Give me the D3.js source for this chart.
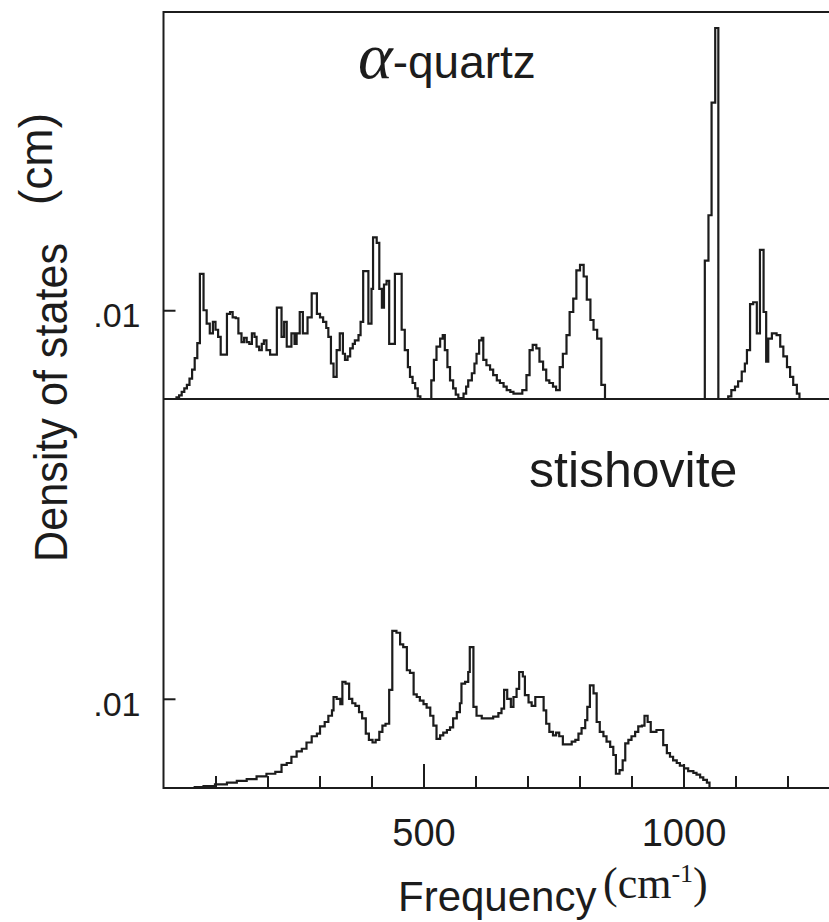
<!DOCTYPE html>
<html>
<head>
<meta charset="utf-8">
<script src="https://cdn.jsdelivr.net/npm/d3@7"></script>
<style>
	body { margin: 0; background: #fff; }
	svg { display: block; }
</style>
</head>
<body>
<script>
// histogram steps: frequency (cm^-1) where a step starts, density of states (x 1e-3 cm)
const quartzFreq = [0, 25, 30, 35, 40, 45, 50, 55, 60, 65, 70, 77, 83, 89, 95, 100, 105, 110, 122, 128, 133, 139, 144, 150, 155, 160, 165, 170, 175, 179, 184, 189, 193, 198, 205, 218, 227, 232, 237, 246, 252, 256, 262, 268, 277, 285, 295, 301, 307, 313, 317, 322, 327, 333, 339, 345, 349, 354, 359, 364, 368, 375, 379, 384, 394, 400, 403, 410, 415, 420, 424, 429, 434, 445, 458, 464, 470, 474, 479, 484, 489, 494, 515, 520, 525, 532, 537, 541, 546, 551, 557, 562, 567, 577, 582, 586, 593, 598, 602, 607, 612, 615, 621, 628, 634, 641, 647, 654, 660, 667, 673, 690, 698, 704, 710, 717, 723, 730, 736, 742, 749, 755, 762, 768, 775, 781, 788, 794, 801, 808, 814, 821, 827, 834, 842, 849, 1041, 1048, 1054, 1061, 1067, 1086, 1092, 1099, 1105, 1112, 1118, 1122, 1128, 1134, 1141, 1147, 1154, 1159, 1163, 1170, 1179, 1186, 1192, 1199, 1205, 1211, 1218, 1223, 1300];
const quartzDos = [0, 0.2, 0.4, 0.8, 1.2, 1.6, 2.3, 3.3, 4.6, 6.3, 14.1, 10.0, 8.5, 7.4, 8.7, 7.8, 7.0, 5.0, 9.6, 9.8, 9.2, 9.1, 7.4, 6.4, 6.9, 6.4, 6.2, 7.4, 7.0, 5.9, 5.5, 6.2, 6.6, 5.5, 5.0, 10.3, 7.0, 8.7, 5.9, 7.4, 6.2, 7.4, 9.8, 7.4, 9.2, 11.9, 9.6, 9.2, 8.7, 8.0, 7.0, 4.0, 2.5, 5.5, 7.4, 5.1, 4.4, 4.8, 5.7, 6.2, 6.6, 7.2, 8.7, 14.4, 8.5, 12.4, 18.2, 17.6, 12.4, 10.3, 12.9, 13.3, 6.2, 14.1, 7.8, 5.5, 3.6, 2.5, 1.8, 1.2, 0.3, 0, 2.1, 4.4, 5.9, 6.8, 7.2, 5.5, 3.6, 2.1, 1.2, 0.5, 0.1, 0.6, 1.4, 2.1, 2.9, 4.0, 5.1, 6.6, 6.9, 4.4, 3.8, 3.3, 2.7, 2.1, 1.8, 1.4, 1.0, 0.8, 0.6, 1.0, 2.7, 5.5, 6.1, 5.7, 4.2, 3.3, 2.1, 1.8, 1.4, 1.0, 3.6, 5.1, 7.2, 9.8, 11.3, 14.5, 15.1, 13.8, 11.2, 8.9, 7.8, 6.8, 1.6, 0, 15.6, 20.7, 33.4, 41.8, 0, 0.3, 1.0, 1.4, 2.0, 3.1, 4.0, 5.5, 10.7, 10.9, 7.4, 16.8, 9.8, 4.2, 6.8, 7.4, 7.2, 5.9, 4.8, 3.6, 2.5, 1.6, 0.6, 0, 0];

const stishFreq = [0, 60, 77, 99, 122, 141, 160, 179, 198, 215, 227, 237, 246, 256, 266, 275, 285, 295, 301, 310, 317, 324, 327, 333, 340, 344, 350, 357, 363, 369, 376, 382, 389, 395, 402, 408, 415, 421, 427, 434, 440, 448, 455, 461, 468, 474, 481, 487, 493, 500, 506, 513, 519, 525, 532, 538, 545, 551, 557, 564, 570, 573, 580, 586, 589, 596, 602, 612, 634, 644, 650, 655, 661, 668, 673, 679, 684, 691, 695, 702, 708, 715, 731, 736, 742, 749, 755, 761, 768, 785, 792, 798, 804, 811, 815, 820, 827, 833, 839, 846, 852, 859, 865, 870, 877, 883, 888, 894, 900, 907, 913, 920, 925, 931, 937, 948, 961, 968, 974, 980, 987, 993, 1001, 1009, 1019, 1025, 1032, 1038, 1045, 1050, 1300];
const stishDos = [0, 0.1, 0.2, 0.4, 0.6, 0.8, 1.0, 1.3, 1.6, 1.8, 2.6, 2.8, 3.5, 4.1, 4.4, 5.1, 5.8, 6.1, 6.9, 7.4, 8.1, 8.7, 10.2, 10.0, 9.4, 11.9, 11.7, 10.0, 9.5, 9.2, 8.5, 7.8, 6.1, 5.4, 5.1, 5.4, 6.3, 7.0, 7.2, 11.0, 17.6, 17.4, 16.1, 15.8, 13.2, 12.9, 10.5, 10.2, 9.8, 9.4, 9.0, 8.1, 7.0, 5.5, 5.9, 6.2, 6.5, 6.8, 7.8, 8.5, 9.5, 11.7, 11.9, 13.0, 15.8, 9.1, 8.1, 7.8, 8.0, 8.4, 8.9, 11.0, 10.0, 9.1, 10.2, 11.1, 13.0, 12.5, 10.4, 9.6, 9.2, 10.2, 8.7, 7.2, 6.3, 5.9, 6.2, 5.8, 4.9, 5.2, 5.4, 6.1, 6.7, 7.6, 9.1, 11.5, 10.6, 7.4, 6.3, 5.8, 5.2, 4.6, 3.7, 1.6, 2.0, 3.1, 5.0, 5.4, 5.8, 6.3, 6.9, 7.0, 8.1, 7.4, 6.3, 6.5, 4.8, 3.9, 3.5, 3.1, 2.8, 2.5, 2.2, 1.9, 1.7, 1.5, 1.2, 0.9, 0.6, 0, 0];

const xTicks = [100, 200, 300, 400, 500, 600, 700, 800, 900, 1000, 1100, 1200];
const xLabels = [500, 1000];
const yTicks = [0.01];

const width = 829, height = 922;
const ink = "#1c1c1c";
const sans = "'Liberation Sans', Arial, Helvetica, sans-serif";
const serif = "'Liberation Serif', 'Times New Roman', serif";

const svg = d3.select("body").append("svg")
	.attr("width", width)
	.attr("height", height)
	.attr("font-family", sans);

// scales
const x = d3.scaleLinear().domain([0, 1300]).range([163.5, 839.5]);
const yTop = d3.scaleLinear().domain([0, 0.0436]).range([399, 12]);
const yBot = d3.scaleLinear().domain([0, 0.0436]).range([788, 399]);

// frame
const frame = svg.append("g").attr("stroke", ink).attr("stroke-width", 2).attr("fill", "none");
frame.append("path").attr("d", `M${x(1300)},${yTop(0.0436)}H${x(0)}V${yBot(0)}H${x(1300)}`);
frame.append("path").attr("d", `M${x(0)},${yTop(0)}H${x(1300)}`);

// y axes (ticks point inward)
function yAxis(scale) {
	const g = svg.append("g")
		.attr("transform", `translate(${x(0)},0)`)
		.call(d3.axisLeft(scale).tickValues(yTicks).tickSize(-12).tickPadding(23).tickFormat(() => ".01"));
	g.select(".domain").remove();
	g.selectAll(".tick line").attr("stroke", ink).attr("stroke-width", 2);
	g.selectAll(".tick text")
		.attr("font-family", sans)
		.attr("font-size", 34)
		.attr("fill", ink)
		.attr("dy", "0.48em");
}
yAxis(yTop);
yAxis(yBot);

// x axis
const xAxis = svg.append("g")
	.attr("transform", `translate(0,${yBot(0)})`)
	.call(d3.axisBottom(x).tickValues(xTicks).tickSize(-12).tickPadding(31)
		.tickFormat(d => xLabels.includes(d) ? d : ""));
xAxis.select(".domain").remove();
xAxis.selectAll(".tick line")
	.attr("y2", d => xLabels.includes(d) ? -24 : -12)
	.attr("stroke", ink)
	.attr("stroke-width", 2);
xAxis.selectAll(".tick text")
	.attr("font-family", sans)
	.attr("font-size", 38)
	.attr("fill", ink);

// curves
function drawCurve(freq, dos, y) {
	const line = d3.line()
		.x(d => x(d[0]))
		.y(d => y(d[1] * 1e-3))
		.curve(d3.curveStepAfter);
	svg.append("path")
		.datum(d3.zip(freq, dos))
		.attr("d", line)
		.attr("fill", "none")
		.attr("stroke", ink)
		.attr("stroke-width", 2.2)
		.attr("stroke-linejoin", "miter");
}
drawCurve(quartzFreq, quartzDos, yTop);
drawCurve(stishFreq, stishDos, yBot);

// labels
const title = svg.append("text").attr("x", 358).attr("y", 78).attr("fill", ink);
title.append("tspan").attr("font-family", serif).attr("font-style", "italic").attr("font-size", 66).text("α");
title.append("tspan").attr("font-size", 46).text("-quartz");

svg.append("text")
	.attr("x", 529).attr("y", 487)
	.attr("font-size", 50).attr("fill", ink)
	.text("stishovite");

svg.append("text")
	.attr("transform", "translate(67,562) rotate(-90)")
	.attr("font-size", 46)
	.attr("textLength", 319)
	.attr("lengthAdjust", "spacingAndGlyphs")
	.attr("fill", ink)
	.text("Density of states");

svg.append("text")
	.attr("transform", "translate(52,205) rotate(-90)")
	.attr("font-size", 46)
	.attr("fill", ink)
	.text("(cm)");

svg.append("text")
	.attr("x", 398).attr("y", 911)
	.attr("font-size", 42).attr("fill", ink)
	.text("Frequency");

const unit = svg.append("text")
	.attr("x", 603).attr("y", 898)
	.attr("font-family", serif).attr("font-size", 44).attr("fill", ink);
unit.append("tspan").text("(cm");
unit.append("tspan").attr("font-size", 26).attr("dy", -16).text("-1");
unit.append("tspan").attr("dy", 16).text(")");
</script>
</body>
</html>
